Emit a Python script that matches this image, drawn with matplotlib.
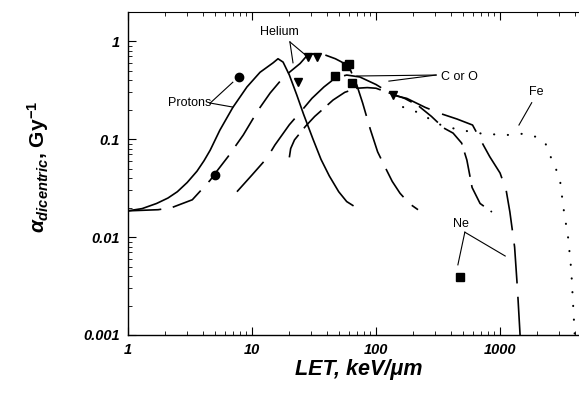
import matplotlib

matplotlib.use("Agg")
import matplotlib.pyplot as plt
from matplotlib.ticker import FixedLocator, LogLocator, NullFormatter

plt.rcParams["font.family"] = ["Liberation Sans", "DejaVu Sans"]
plt.rcParams["mathtext.fontset"] = "custom"
plt.rcParams["mathtext.rm"] = "Liberation Sans:bold"
plt.rcParams["mathtext.it"] = "Liberation Sans:bold:italic"
plt.rcParams["mathtext.bf"] = "Liberation Sans:bold"

# model curves: LET (keV/um) vs alpha for dicentrics (1/Gy)
protons_let = [1.0, 1.3, 1.7, 2.1, 2.5, 3.0, 3.6, 4.1, 4.6, 5.5, 7.0, 9.1,
               11.6, 14.8, 16.2, 17.8, 20, 23, 26, 31, 36, 42, 50, 58, 65]
protons_alpha = [0.0185, 0.0195, 0.022, 0.025, 0.029, 0.036, 0.047, 0.060,
                 0.077, 0.123, 0.21, 0.34, 0.48, 0.60, 0.66, 0.61, 0.45,
                 0.28, 0.18, 0.10, 0.062, 0.042, 0.029, 0.023, 0.021]

helium_let = [1.0, 1.75, 2.26, 3.3, 4.6, 5.0, 6.4, 8.5, 11.2, 14, 18, 24.4,
              28, 33, 39, 47, 53, 62, 70, 78, 90, 103, 118, 135, 156, 185, 218]
helium_alpha = [0.0185, 0.019, 0.020, 0.024, 0.038, 0.044, 0.066, 0.11, 0.197,
                0.295, 0.43, 0.59, 0.72, 0.75, 0.72, 0.66, 0.61, 0.51, 0.355,
                0.233, 0.125, 0.074, 0.052, 0.037, 0.028, 0.022, 0.019]

co_a_let = [7.56, 10, 13.2, 15.3, 20, 25.3, 30.4, 38, 47, 58, 74, 100, 138,
            177, 250, 340, 450, 600, 663, 740, 826, 1000, 1120, 1200, 1310,
            1380, 1450]
co_a_alpha = [0.029, 0.043, 0.064, 0.087, 0.14, 0.197, 0.26, 0.34, 0.42, 0.45,
              0.43, 0.36, 0.28, 0.26, 0.21, 0.18, 0.16, 0.139, 0.11, 0.085,
              0.066, 0.045, 0.030, 0.018, 0.0079, 0.003, 0.001]

co_b_let = [20, 20.5, 22, 27, 32, 37, 45, 56, 70, 85, 100, 123, 170, 218, 280,
            350, 418, 490, 540, 595, 690, 860]
co_b_alpha = [0.065, 0.08, 0.098, 0.135, 0.17, 0.20, 0.25, 0.30, 0.33, 0.335,
              0.33, 0.30, 0.26, 0.22, 0.17, 0.13, 0.115, 0.091, 0.061, 0.032,
              0.022, 0.018]

fe_let = [165, 226, 262, 298, 347, 475, 730, 1140, 1500, 1980, 2320, 2450,
          2790, 3060, 3240, 3540, 3750, 4000]
fe_alpha = [0.212, 0.184, 0.164, 0.149, 0.136, 0.124, 0.113, 0.110, 0.113,
            0.105, 0.091, 0.074, 0.052, 0.036, 0.020, 0.0098, 0.0046, 0.001]

# measured points
proton_pts_let = [5.03, 7.86]
proton_pts_alpha = [0.043, 0.43]
helium_pts_let = [23.5, 28.3, 33.5, 137]
helium_pts_alpha = [0.38, 0.69, 0.69, 0.28]
co_pts_let = [46.7, 57.2, 60.4, 64.1]
co_pts_alpha = [0.44, 0.555, 0.58, 0.37]
ne_pts_let = [474]
ne_pts_alpha = [0.0039]

x_ticks = [1, 10, 100, 1000]
y_ticks = [0.001, 0.01, 0.1, 1]

fig = plt.figure(figsize=(5.79, 3.94), dpi=100)
ax = fig.add_axes([128 / 579, 59 / 394, 451 / 579, 323 / 394])
ax.set_xscale("log")
ax.set_yscale("log")
ax.set_xlim(1, 4330)
ax.set_ylim(0.001, 1.98)

lw = 1.2
ax.plot(protons_let, protons_alpha, color="black", lw=lw)
l, = ax.plot(helium_let, helium_alpha, color="black", lw=lw)
l.set_dashes((20, 7))
l, = ax.plot(co_a_let, co_a_alpha, color="black", lw=lw)
l.set_dashes((24, 8))
l, = ax.plot(co_b_let, co_b_alpha, color="black", lw=lw)
l.set_dashes((15, 5))
l, = ax.plot(fe_let, fe_alpha, color="black", lw=1.5,
             dash_capstyle="round")
l.set_dashes((0.1, 6.5))

ax.plot(proton_pts_let, proton_pts_alpha, "o", color="black", ms=6)
ax.plot(helium_pts_let, helium_pts_alpha, "v", color="black", ms=6)
ax.plot(co_pts_let, co_pts_alpha, "s", color="black", ms=6)
ax.plot(ne_pts_let, ne_pts_alpha, "s", color="black", ms=6)

# labels with leader lines
lab = dict(fontsize=9, ha="center", va="center")
lead = dict(color="black", lw=0.8)
ax.text(3.16, 0.233, "Protons", **lab)
ax.plot([4.6, 7.0], [0.233, 0.38], **lead)
ax.plot([4.6, 7.0], [0.233, 0.212], **lead)
ax.text(16.5, 1.235, "Helium", **lab)
ax.plot([20.2, 27.0], [0.98, 0.72], **lead)
ax.plot([20.2, 21.4], [0.98, 0.60], **lead)
ax.text(470, 0.43, "C or O", **lab)
ax.plot([305, 70], [0.45, 0.44], **lead)
ax.plot([305, 127], [0.45, 0.39], **lead)
ax.text(1940, 0.30, "Fe", **lab)
ax.plot([1800, 1420], [0.235, 0.139], **lead)
ax.text(485, 0.0135, "Ne", **lab)
ax.plot([520, 457], [0.0112, 0.0052], **lead)
ax.plot([520, 1100], [0.0112, 0.0064], **lead)

# axes styling
ax.spines["right"].set_visible(False)
for s in ("left", "bottom"):
    ax.spines[s].set_linewidth(1.0)
ax.spines["top"].set_linewidth(0.8)
ax.xaxis.set_major_locator(FixedLocator(x_ticks))
ax.yaxis.set_major_locator(FixedLocator(y_ticks))
ax.xaxis.set_minor_locator(LogLocator(base=10, subs=range(2, 10)))
ax.yaxis.set_minor_locator(LogLocator(base=10, subs=range(2, 10)))
ax.xaxis.set_minor_formatter(NullFormatter())
ax.yaxis.set_minor_formatter(NullFormatter())
ax.set_xticklabels([str(v) for v in x_ticks])
ax.set_yticklabels(["0.001", "0.01", "0.1", "1"])
ax.tick_params(which="both", direction="in", top=True, right=False)
ax.tick_params(which="major", length=6, width=0.8)
ax.tick_params(which="minor", length=3, width=0.6)
ax.tick_params(axis="x", which="major", pad=6)
ax.tick_params(axis="y", which="major", pad=6)
for t in ax.get_xticklabels() + ax.get_yticklabels():
    t.set_fontsize(10.5)
    t.set_fontweight("bold")
    t.set_fontstyle("italic")

fig.text(359 / 579, 1 - 370 / 394, "LET, keV/\u03bcm", fontsize=15.5,
         fontweight="bold", fontstyle="italic", ha="center", va="center")
fig.text(38 / 579, 1 - 167 / 394, r"$\alpha_{dicentric}$, Gy$^{\mathit{-1}}$",
         fontsize=15, fontweight="bold", rotation=90, ha="center", va="center")

fig.savefig("out.png", dpi=100, facecolor="white")
